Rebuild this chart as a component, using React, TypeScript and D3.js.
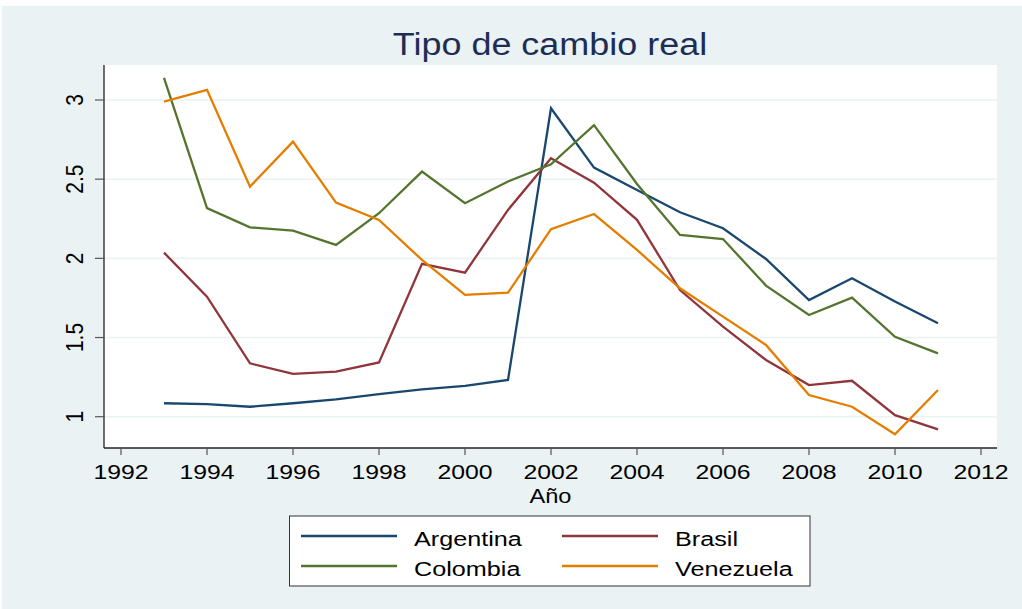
import React from "react";
import * as d3 from "d3";

const years = [1993, 1994, 1995, 1996, 1997, 1998, 1999, 2000, 2001, 2002, 2003, 2004, 2005, 2006, 2007, 2008, 2009, 2010, 2011];
const argentina = [1.085, 1.08, 1.063, 1.085, 1.11, 1.143, 1.173, 1.194, 1.232, 2.948, 2.573, 2.432, 2.291, 2.19, 1.996, 1.737, 1.874, 1.727, 1.59];
const brasil = [2.036, 1.758, 1.337, 1.27, 1.284, 1.343, 1.965, 1.91, 2.306, 2.632, 2.478, 2.243, 1.8, 1.569, 1.358, 1.2, 1.227, 1.01, 0.92];
const colombia = [3.14, 2.317, 2.196, 2.175, 2.085, 2.285, 2.548, 2.348, 2.485, 2.594, 2.841, 2.47, 2.148, 2.122, 1.828, 1.642, 1.752, 1.505, 1.4];
const venezuela = [2.99, 3.064, 2.453, 2.737, 2.352, 2.243, 1.99, 1.769, 1.783, 2.184, 2.28, 2.053, 1.811, 1.632, 1.453, 1.137, 1.063, 0.889, 1.169];

const xTicks = [1992, 1994, 1996, 1998, 2000, 2002, 2004, 2006, 2008, 2010, 2012];
const yTicks = [1, 1.5, 2, 2.5, 3];
const yTickLabels = ["1", "1.5", "2", "2.5", "3"];

const seriesNames = ["Argentina", "Brasil", "Colombia", "Venezuela"];
const seriesData = [argentina, brasil, colombia, venezuela];
const seriesColors = ["#1a476f", "#90353b", "#55752f", "#e37e00"];

const title = "Tipo de cambio real";
const xTitle = "Año";

const FONT = "'Liberation Sans', Arial, sans-serif";

function SText(props: any) {
  const { x, y, anchor = "start", size, fill = "#000", rotate = false, sx = 1.18, children } = props;
  const tr = `translate(${x},${y}) scale(${sx},1)${rotate ? " rotate(-90)" : ""}`;
  return (
    <text transform={tr} textAnchor={anchor} fontSize={size} fill={fill} fontFamily={FONT}>
      {children}
    </text>
  );
}

export default function App() {
  const W = 1022, H = 609;
  const plot = { left: 104, right: 997, top: 65, bottom: 448 };
  const x = d3.scaleLinear().domain([1992, 2012]).range([121, 981]);
  const y = d3.scaleLinear().domain([1, 3]).range([416.7, 100]);
  const line = d3.line<[number, number]>().x((d) => x(d[0])).y((d) => y(d[1]));

  const legend = { x0: 289.5, y0: 516, x1: 810, y1: 586 };
  const legendPos = [
    { lx: 301, tx: 414, ly: 536, ty: 546 },
    { lx: 562, tx: 675, ly: 536, ty: 546 },
    { lx: 301, tx: 414, ly: 566, ty: 576 },
    { lx: 562, tx: 675, ly: 566, ty: 576 },
  ];

  return (
    <svg width={W} height={H} style={{ position: "absolute", left: 0, top: 0, display: "block" }}>
      <rect x={0} y={0} width={W} height={H} fill="#ffffff" />
      <rect x={2} y={6} width={W - 2} height={H - 6} fill="#eaf2f3" />
      <rect x={plot.left} y={plot.top} width={plot.right - plot.left} height={plot.bottom - plot.top} fill="#ffffff" />
      {yTicks.map((t) => (
        <line key={"g" + t} x1={plot.left} x2={plot.right} y1={y(t)} y2={y(t)} stroke="#eaf2f3" strokeWidth={1.6} />
      ))}
      {seriesData.map((s, i) => (
        <path
          key={seriesNames[i]}
          d={line(years.map((yr, j) => [yr, s[j]] as [number, number])) || ""}
          fill="none"
          stroke={seriesColors[i]}
          strokeWidth={2.3}
          strokeLinejoin="miter"
        />
      ))}
      {/* axes */}
      <line x1={plot.left} x2={plot.left} y1={plot.top} y2={plot.bottom} stroke="#222" strokeWidth={1.3} />
      <line x1={plot.left} x2={plot.right} y1={plot.bottom} y2={plot.bottom} stroke="#222" strokeWidth={1.3} />
      {yTicks.map((t, i) => (
        <g key={"yt" + t}>
          <line x1={plot.left - 9} x2={plot.left} y1={y(t)} y2={y(t)} stroke="#555" strokeWidth={1.2} />
          <SText x={83} y={y(t)} anchor="middle" size={21} rotate sx={1.13}>
            {yTickLabels[i]}
          </SText>
        </g>
      ))}
      {xTicks.map((t) => (
        <g key={"xt" + t}>
          <line x1={x(t)} x2={x(t)} y1={plot.bottom} y2={plot.bottom + 7} stroke="#555" strokeWidth={1.2} />
          <SText x={x(t)} y={479} anchor="middle" size={21}>
            {String(t)}
          </SText>
        </g>
      ))}
      <SText x={(plot.left + plot.right) / 2} y={503} anchor="middle" size={20}>
        {xTitle}
      </SText>
      <SText x={550} y={55} anchor="middle" size={31} fill="#1e2d53" sx={1.16}>
        {title}
      </SText>
      {/* legend */}
      <rect
        x={legend.x0}
        y={legend.y0}
        width={legend.x1 - legend.x0}
        height={legend.y1 - legend.y0}
        fill="#ffffff"
        stroke="#333"
        strokeWidth={1}
      />
      {seriesNames.map((n, i) => (
        <g key={"lg" + n}>
          <line x1={legendPos[i].lx} x2={legendPos[i].lx + 96} y1={legendPos[i].ly} y2={legendPos[i].ly} stroke={seriesColors[i]} strokeWidth={2.3} />
          <SText x={legendPos[i].tx} y={legendPos[i].ty} size={21} sx={1.2}>
            {n}
          </SText>
        </g>
      ))}
    </svg>
  );
}
